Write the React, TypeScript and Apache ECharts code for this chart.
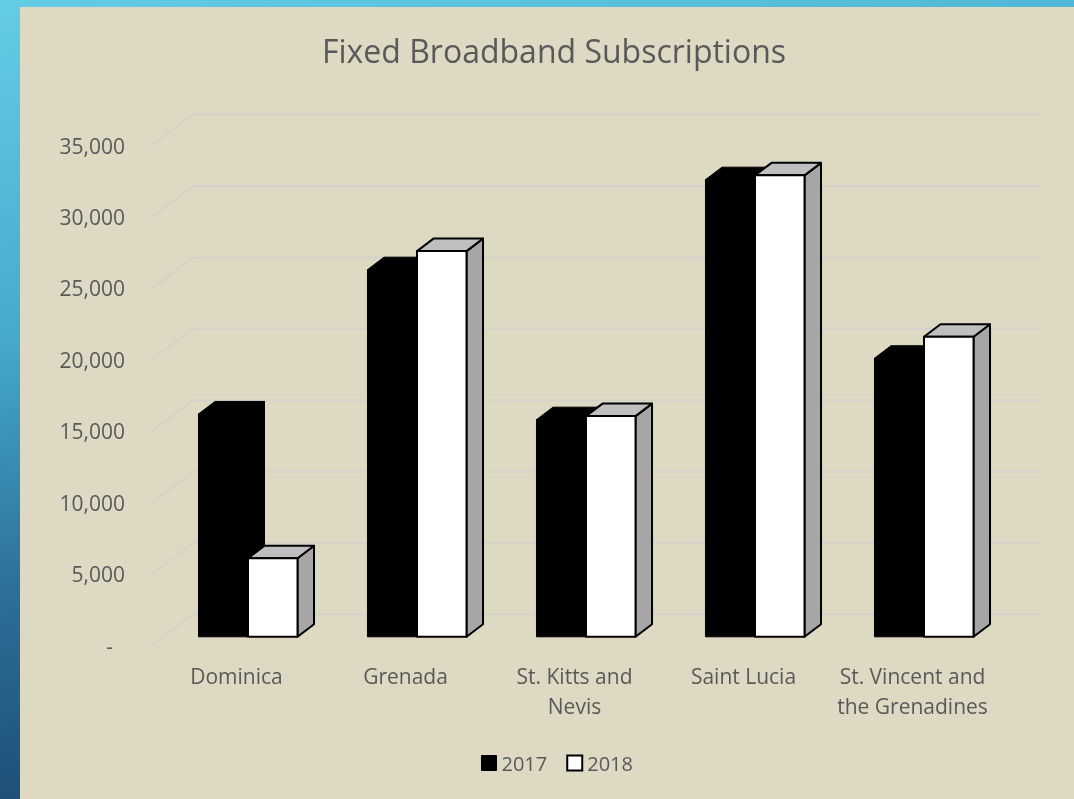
import React, { useEffect, useRef } from "react";
import * as echarts from "echarts";

const categories = [
  "Dominica",
  "Grenada",
  "St. Kitts and\nNevis",
  "Saint Lucia",
  "St. Vincent and\nthe Grenadines",
];
const values2017 = [15600, 25700, 15200, 32000, 19500];
const values2018 = [5500, 27000, 15450, 32300, 21000];
const yTicks = [0, 5000, 10000, 15000, 20000, 25000, 30000, 35000];
const seriesNames = ["2017", "2018"];

// 3D projection constants (oblique)
const WALL_DX = 41;
const WALL_DY = -31;
const BAR_OX = 11.5;
const BAR_OY = -8.7;
const BAR_DX = 16.5;
const BAR_DY = -12.5;
const BAR_FRAC = 0.293;

const TEXT = "#595959";
const FONT = "'Open Sans', 'Noto Sans', sans-serif";

function barRenderer(seriesIdx: number, white: boolean) {
  return (params: any, api: any) => {
    const i = api.value(0);
    const v = api.value(1);
    const base = api.coord([i, 0]);
    const top = api.coord([i, v]);
    const band = api.size([1, 0])[0];
    const bw = band * BAR_FRAC;
    const x0 = base[0] - bw + seriesIdx * bw + BAR_OX;
    const yb = base[1] + BAR_OY;
    const yt = top[1] + BAR_OY;
    const stroke = "#000";
    const lw = white ? 2 : 1;
    const frontFill = white ? "#FFFFFF" : "#000000";
    const topFill = white ? "#BFBFBF" : "#000000";
    const sideFill = white ? "#A6A6A6" : "#000000";
    return {
      type: "group",
      children: [
        {
          type: "polygon",
          shape: {
            points: [
              [x0 + bw, yt],
              [x0 + bw + BAR_DX, yt + BAR_DY],
              [x0 + bw + BAR_DX, yb + BAR_DY],
              [x0 + bw, yb],
            ],
          },
          style: { fill: sideFill, stroke, lineWidth: lw, lineJoin: "round" },
        },
        {
          type: "polygon",
          shape: {
            points: [
              [x0, yt],
              [x0 + BAR_DX, yt + BAR_DY],
              [x0 + bw + BAR_DX, yt + BAR_DY],
              [x0 + bw, yt],
            ],
          },
          style: { fill: topFill, stroke, lineWidth: lw, lineJoin: "round" },
        },
        {
          type: "rect",
          shape: { x: x0, y: yt, width: bw, height: yb - yt },
          style: { fill: frontFill, stroke, lineWidth: lw, lineJoin: "round" },
        },
      ],
    };
  };
}

export default function App() {
  const ref = useRef<HTMLDivElement>(null);

  useEffect(() => {
    if (!ref.current) return;
    const chart = echarts.init(ref.current, undefined, { renderer: "svg" });

    const option: any = {
      animation: false,
      graphic: [
        {
          type: "rect",
          z: -10,
          shape: { x: 0, y: 0, width: 1074, height: 799 },
          style: {
            fill: new echarts.graphic.LinearGradient(0, 0, 0.25, 1, [
              { offset: 0, color: "#63CDE4" },
              { offset: 0.4, color: "#45A9CD" },
              { offset: 0.7, color: "#2C6F97" },
              { offset: 1, color: "#1C4870" },
            ]),
          },
        },
        {
          type: "rect",
          z: -9,
          shape: { x: 20, y: 7, width: 1054, height: 792 },
          style: { fill: "#DDD9C3" },
        },
      ],
      title: {
        text: "Fixed Broadband Subscriptions",
        left: 549,
        top: 29,
        textAlign: "center",
        textStyle: {
          fontFamily: FONT,
          fontSize: 32,
          fontWeight: "normal",
          color: TEXT,
        },
      },
      legend: {
        left: 476,
        top: 748,
        itemWidth: 15,
        itemHeight: 15,
        itemGap: 19,
        textStyle: { fontFamily: FONT, fontSize: 20, color: TEXT },
        data: [
          {
            name: seriesNames[0],
            icon: "rect",
            itemStyle: { color: "#000", borderColor: "#000", borderWidth: 1 },
          },
          {
            name: seriesNames[1],
            icon: "rect",
            itemStyle: { color: "#fff", borderColor: "#000", borderWidth: 2 },
          },
        ],
      },
      grid: { left: 152, right: 77, top: 145.5, bottom: 153.5 },
      xAxis: {
        type: "category",
        data: categories,
        axisLine: { show: false },
        axisTick: { show: false },
        splitLine: { show: false },
        axisLabel: {
          interval: 0,
          margin: 15,
          fontFamily: FONT,
          fontSize: 21,
          lineHeight: 30,
          color: TEXT,
        },
      },
      yAxis: {
        type: "value",
        min: 0,
        max: 35000,
        interval: 5000,
        axisLine: { show: false },
        axisTick: { show: false },
        splitLine: { show: false },
        axisLabel: {
          margin: 27,
          fontFamily: FONT,
          fontSize: 21,
          color: TEXT,
          formatter: (v: number) =>
            v === 0 ? "{z|-}" : v.toLocaleString("en-US"),
          rich: {
            z: {
              fontFamily: FONT,
              fontSize: 21,
              color: TEXT,
              padding: [0, 12, 0, 0],
            },
          },
        },
      },
      series: [
        {
          type: "custom",
          name: "grid",
          silent: true,
          z: 1,
          data: yTicks.map((t) => [0, t]),
          renderItem: (params: any, api: any) => {
            const cs = params.coordSys;
            const y = api.coord([0, api.value(1)])[1];
            return {
              type: "polyline",
              shape: {
                points: [
                  [cs.x, y],
                  [cs.x + WALL_DX, y + WALL_DY],
                  [cs.x + cs.width + WALL_DX + 2, y + WALL_DY],
                ],
              },
              style: { stroke: "#D4D2CA", lineWidth: 2, fill: "none" },
            };
          },
        },
        {
          type: "custom",
          name: seriesNames[0],
          z: 3,
          itemStyle: { color: "#000" },
          data: values2017.map((v, i) => [i, v]),
          renderItem: barRenderer(0, false),
        },
        {
          type: "custom",
          name: seriesNames[1],
          z: 4,
          itemStyle: { color: "#fff", borderColor: "#000" },
          data: values2018.map((v, i) => [i, v]),
          renderItem: barRenderer(1, true),
        },
      ],
    };

    chart.setOption(option);
    return () => chart.dispose();
  }, []);

  return (
    <div
      ref={ref}
      style={{ position: "fixed", left: 0, top: 0, width: 1074, height: 799 }}
    />
  );
}
